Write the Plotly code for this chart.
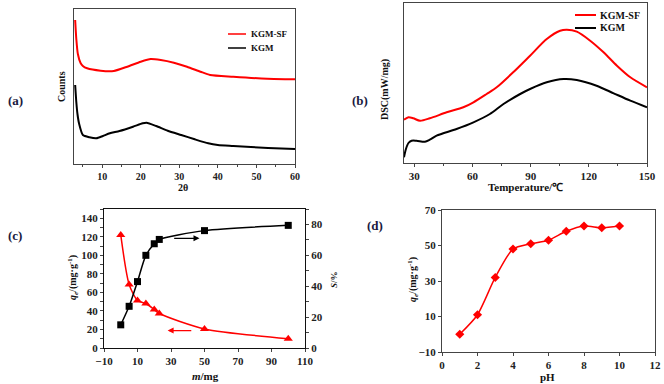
import plotly.graph_objects as go

# ---------- (a) XRD ----------
xrd_x_sf = [3.0, 3.3, 3.7, 4.4, 5.0, 6.1, 9.6, 13.0, 16.5, 20.0, 22.6, 25.2, 28.6, 32.0, 35.5, 38.0, 44.0, 52.8, 60.0]
xrd_y_sf = [144, 125, 110, 101, 98, 95.7, 93.3, 93.0, 97.3, 102.3, 105.0, 104.0, 101.3, 97.3, 92.3, 89.0, 87.3, 85.3, 84.7]
xrd_x_kgm = [3.0, 3.3, 3.6, 4.0, 5.0, 6.7, 8.5, 10.2, 12.0, 14.5, 18.0, 20.5, 21.5, 24.0, 27.0, 30.5, 34.0, 37.5, 40.0, 44.0, 53.0, 60.0]
xrd_y_kgm = [79, 62, 50, 40.7, 29, 26.7, 25.7, 28, 30.7, 33, 37.3, 40.7, 41.3, 38, 33.3, 29, 24.7, 20.7, 19, 18, 16, 15]

# ---------- (b) DSC ----------
dsc_t_sf = [24.7, 27, 29.5, 33, 38, 46.7, 55.3, 60.5, 67.3, 72.5, 81, 89.7, 98.3, 105.2, 108.7, 113.8, 120.7, 127.6, 134.5, 141.4, 150]
dsc_y_sf = [43.3, 45.7, 44.7, 42.3, 44.7, 50.7, 55.7, 60.7, 69, 75.7, 90.7, 107.3, 124, 132.3, 133.3, 131.3, 122.3, 110.7, 97.3, 85.7, 75.7]
dsc_t_kgm = [24.7, 25.7, 27, 28.6, 31.2, 35.5, 38, 41.5, 51.8, 60.5, 69, 76, 84.6, 89.7, 98.3, 107, 113.8, 124, 132.8, 141.4, 150]
dsc_y_kgm = [5.7, 14, 20, 22.3, 22.3, 21.3, 23.3, 27.3, 34, 40.7, 49, 59, 69, 74, 80.7, 84, 83, 77.3, 69.7, 62.3, 55.7]

# ---------- (c) dosage ----------
mass_mg = [0, 5, 10, 15, 20, 23, 50, 100]
qe_mass = [122, 68.6, 51.3, 48, 41.5, 37.2, 20.6, 10.1]
s_pct = [15, 27, 43, 60, 67.5, 70.3, 76, 79.4]

# ---------- (d) pH ----------
ph = [1, 2, 3, 4, 5, 6, 7, 8, 9, 10]
qe_ph = [0, 11, 32, 48, 51, 53, 58, 61, 60, 61]

W, H = 664, 384
def fx(a, b):
    return [a / W, b / W]
def fy(top, bottom):
    return [1 - bottom / H, 1 - top / H]

RED = "#ff0000"
BLK = "#000000"
FONT = "Liberation Serif"
tickfont = dict(family=FONT, size=11, color="#222222", weight="bold")

fig = go.Figure()

fig.add_trace(go.Scatter(x=xrd_x_sf, y=xrd_y_sf, mode="lines", line=dict(color=RED, width=2, shape="spline", smoothing=0.6), xaxis="x", yaxis="y", showlegend=False))
fig.add_trace(go.Scatter(x=xrd_x_kgm, y=xrd_y_kgm, mode="lines", line=dict(color=BLK, width=2, shape="spline", smoothing=0.6), xaxis="x", yaxis="y", showlegend=False))

fig.add_trace(go.Scatter(x=dsc_t_sf, y=dsc_y_sf, mode="lines", line=dict(color=RED, width=2, shape="spline", smoothing=0.8), xaxis="x2", yaxis="y2", showlegend=False))
fig.add_trace(go.Scatter(x=dsc_t_kgm, y=dsc_y_kgm, mode="lines", line=dict(color=BLK, width=2, shape="spline", smoothing=0.8), xaxis="x2", yaxis="y2", showlegend=False))

fig.add_trace(go.Scatter(x=mass_mg, y=qe_mass, mode="lines+markers", line=dict(color=RED, width=1.5, shape="spline", smoothing=0.7),
                         marker=dict(symbol="triangle-up", size=8, color=RED), xaxis="x3", yaxis="y3", showlegend=False))
fig.add_trace(go.Scatter(x=mass_mg, y=s_pct, mode="lines+markers", line=dict(color=BLK, width=1.5, shape="spline", smoothing=0.7),
                         marker=dict(symbol="square", size=7, color=BLK), xaxis="x3", yaxis="y4", showlegend=False))

fig.add_trace(go.Scatter(x=ph, y=qe_ph, mode="lines+markers", line=dict(color=RED, width=1.5, shape="spline", smoothing=0.7),
                         marker=dict(symbol="diamond", size=7, color=RED), xaxis="x4", yaxis="y5", showlegend=False))

def ax(**kw):
    d = dict(showline=True, linecolor="#444444", linewidth=1, mirror=True, showgrid=False, zeroline=False,
             tickfont=tickfont, ticks="outside", ticklen=3, tickcolor="#444444", automargin=False)
    d.update(kw)
    return d

fig.update_layout(
    template="none",
    width=W, height=H, margin=dict(l=0, r=0, t=0, b=0, autoexpand=False),
    paper_bgcolor="white", plot_bgcolor="white",
    xaxis=ax(domain=fx(74, 295), range=[2.7, 60], tickvals=[10, 20, 30, 40, 50, 60], anchor="y",
             tickfont=dict(family=FONT, size=10, color="#222222", weight="bold"),
             minor=dict(dtick=5, tick0=0, ticks="outside", ticklen=2, tickcolor="#444444")),
    yaxis=ax(domain=fy(9, 164), range=[0, 155], showticklabels=False, anchor="x", ticks=""),
    xaxis2=ax(domain=fx(404, 647), range=[24.7, 150], tickvals=[30, 60, 90, 120, 150], anchor="y2",
              minor=dict(dtick=15, tick0=0, ticks="outside", ticklen=2, tickcolor="#444444")),
    yaxis2=ax(domain=fy(3, 163), range=[0, 160], showticklabels=False, anchor="x2", ticks=""),
    xaxis3=ax(domain=fx(104, 305), range=[-10, 110], tickvals=[-10, 10, 30, 50, 70, 90, 110], anchor="y3",
              linecolor="#111111", linewidth=1.2),
    yaxis3=ax(domain=fy(209, 348), range=[0, 150], tickvals=[0, 20, 40, 60, 80, 100, 120, 140], anchor="x3",
              linecolor="#111111", linewidth=1.2, mirror=False,
              minor=dict(dtick=10, ticks="outside", ticklen=3, tickcolor="#444444")),
    yaxis4=ax(range=[0, 90], tickvals=[0, 20, 40, 60, 80], overlaying="y3", side="right", anchor="x3",
              linecolor="#111111", linewidth=1.2, mirror=False,
              minor=dict(dtick=10, ticks="outside", ticklen=3, tickcolor="#444444")),
    xaxis4=ax(domain=fx(442, 655), range=[0, 12], tickvals=[0, 2, 4, 6, 8, 10, 12], anchor="y5"),
    yaxis5=ax(domain=fy(210, 352), range=[-10, 70], tickvals=[-10, 10, 30, 50, 70], anchor="x4"),
)

ann = []
def A(text, x, y, size=11, angle=0, xanchor="center", color="#111111"):
    ann.append(dict(text=text, x=x / W, y=1 - y / H, xref="paper", yref="paper", showarrow=False,
                    font=dict(family=FONT, size=size, color=color), textangle=angle, xanchor=xanchor, yanchor="middle"))

# panel letters
A("<b>(a)</b>", 15, 100, size=13, color="#1a1a40")
A("<b>(b)</b>", 360, 101, size=13, color="#1a1a40")
A("<b>(c)</b>", 15, 235, size=13, color="#1a1a40")
A("<b>(d)</b>", 375, 225, size=13, color="#1a1a40")

# axis titles
A("<b>Counts</b>", 61, 87, size=10, angle=-90)
A("<b>2θ</b>", 183, 188, size=10)
A("<b>DSC(mW/mg)</b>", 385, 90, size=10, angle=-90)
A("<b>Temperature/℃</b>", 525, 187, size=11)
A("<b><i>q<sub>e</sub></i>/(mg·g<sup>-1</sup>)</b>", 73, 278, size=10, angle=-90)
A("<b><i>S</i>/%</b>", 334, 280, size=9, angle=-90)
A("<b><i>m</i>/mg</b>", 205, 376, size=11)
A("<b><i>q<sub>e</sub></i>/(mg·g<sup>-1</sup>)</b>", 413, 280, size=10, angle=-90)
A("<b>pH</b>", 547, 377, size=11)

# legends
A("<b>KGM-SF</b>", 249, 34, size=9, xanchor="left")
A("<b>KGM</b>", 249, 48, size=9, xanchor="left")
A("<b>KGM-SF</b>", 598, 15, size=10, xanchor="left")
A("<b>KGM</b>", 598, 28, size=10, xanchor="left")

# arrows (c)
ann.append(dict(x=47, y=118.4, ax=31, ay=118.4, xref="x3", yref="y3", axref="x3", ayref="y3",
                showarrow=True, arrowhead=2, arrowsize=1, arrowwidth=1.2, arrowcolor=BLK, text=""))
ann.append(dict(x=28, y=18.8, ax=43, ay=18.8, xref="x3", yref="y3", axref="x3", ayref="y3",
                showarrow=True, arrowhead=2, arrowsize=1, arrowwidth=1.2, arrowcolor=RED, text=""))

shapes = [
    dict(type="line", xref="paper", yref="paper", x0=228 / W, x1=246 / W, y0=1 - 34 / H, y1=1 - 34 / H, line=dict(color=RED, width=1.5)),
    dict(type="line", xref="paper", yref="paper", x0=228 / W, x1=246 / W, y0=1 - 48 / H, y1=1 - 48 / H, line=dict(color=BLK, width=1.5)),
    dict(type="line", xref="paper", yref="paper", x0=575 / W, x1=596 / W, y0=1 - 15 / H, y1=1 - 15 / H, line=dict(color=RED, width=2)),
    dict(type="line", xref="paper", yref="paper", x0=575 / W, x1=596 / W, y0=1 - 28 / H, y1=1 - 28 / H, line=dict(color=BLK, width=2)),
]

fig.update_layout(annotations=ann, shapes=shapes)
fig.write_html("out.html", config={"displayModeBar": False},
               post_script="document.body.style.margin='0';document.body.style.overflow='hidden';")
